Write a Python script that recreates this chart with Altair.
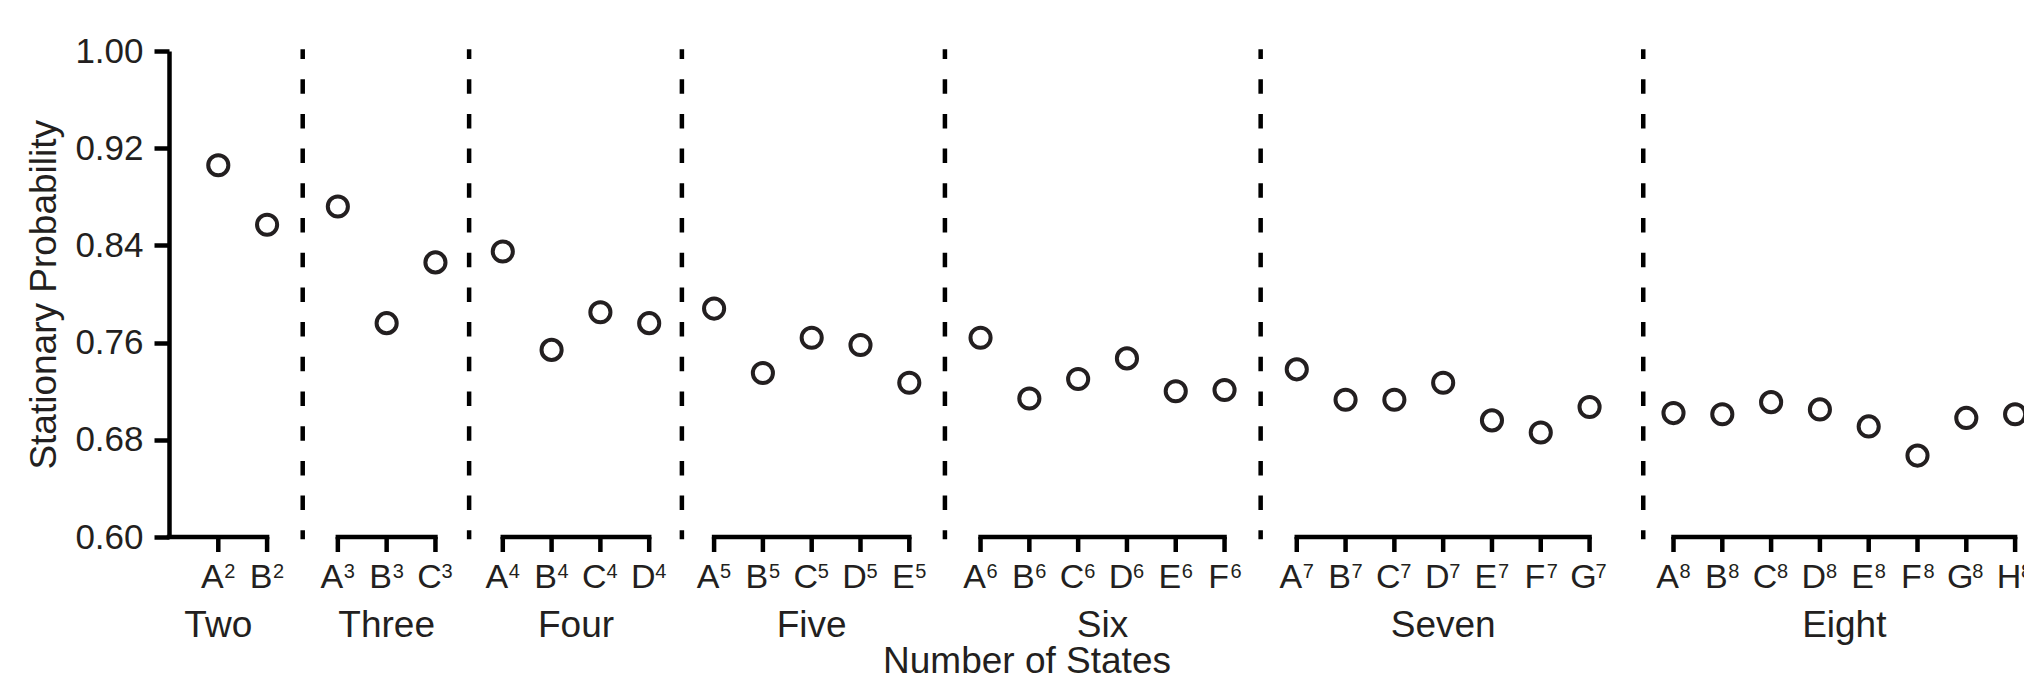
import altair as alt
import pandas as pd

# ---- data ----
groups = ["Two", "Three", "Four", "Five", "Six", "Seven", "Eight"]
sup_digits = ["2", "3", "4", "5", "6", "7", "8"]
state_letters = ["A", "B", "C", "D", "E", "F", "G", "H"]
values_two = [0.906, 0.857]
values_three = [0.872, 0.776, 0.826]
values_four = [0.835, 0.754, 0.785, 0.776]
values_five = [0.788, 0.735, 0.764, 0.758, 0.727]
values_six = [0.764, 0.714, 0.730, 0.747, 0.720, 0.721]
values_seven = [0.738, 0.713, 0.713, 0.727, 0.696, 0.686, 0.707]
values_eight = [0.702, 0.701, 0.711, 0.705, 0.691, 0.667, 0.698, 0.701]
y_ticks = [0.60, 0.68, 0.76, 0.84, 0.92, 1.00]

all_values = [values_two, values_three, values_four, values_five,
              values_six, values_seven, values_eight]

# ---- layout (slot units) ----
lead = 1.01
gap_to_divider = [0.73, 0.69, 0.67, 0.73, 0.74, 1.10]
gap_from_divider = [0.72, 0.69, 0.66, 0.73, 0.74, 0.62]
label_anchor = [0, 1, 1.5, 2, 2.5, 3, 3.5]
unit_px = 48.8
W = 1855
H = 486
x_max = W / unit_px

pts, divs, segs, labs = [], [], [], []
pos = lead
for gi, (g, vals) in enumerate(zip(groups, all_values)):
    first = pos
    for i, v in enumerate(vals):
        pts.append({"grp": g, "letter": state_letters[i], "sup": sup_digits[gi],
                    "value": v, "pos": pos + i})
    last = pos + len(vals) - 1
    segs.append({"start": 0.0 if gi == 0 else first, "end": last})
    labs.append({"grp": g, "lx": first + label_anchor[gi]})
    if gi < len(groups) - 1:
        d = last + gap_to_divider[gi]
        divs.append({"pos": d})
        pos = d + gap_from_divider[gi]

pts = pd.DataFrame(pts)
divs = pd.DataFrame(divs)
segs = pd.DataFrame(segs)
labs = pd.DataFrame(labs)

FONT = "Liberation Sans"
TXT = "#231f20"
xs = alt.Scale(domain=[0, x_max], nice=False, zero=False)
ys = alt.Scale(domain=[0.6, 1.0], nice=False, zero=False)


def X(field):
    return alt.X(field, scale=xs, axis=None)


points = alt.Chart(pts).mark_point(
    shape="circle", filled=False, size=405, strokeWidth=4, color=TXT, opacity=1
).encode(
    x=X("pos:Q"),
    y=alt.Y("value:Q", scale=ys, axis=alt.Axis(
        values=y_ticks, format=".2f", title=None, grid=False,
        domainColor="black", domainWidth=4.5,
        tickColor="black", tickWidth=4.5, tickSize=15,
        labelFontSize=35, labelFont=FONT, labelColor=TXT, labelPadding=11)),
)

dividers = alt.Chart(divs).mark_rule(
    color="black", strokeWidth=4.5, strokeDash=[14.5, 20.2], strokeDashOffset=4.8
).encode(x=X("pos:Q"), y=alt.value(-1.7), y2=alt.value(488.3))

segments = alt.Chart(segs).mark_rule(
    color="black", strokeWidth=4.5, strokeCap="square"
).encode(x=X("start:Q"), x2="end:Q", y=alt.value(H))

ticks = alt.Chart(pts).mark_rule(color="black", strokeWidth=4.5).encode(
    x=X("pos:Q"), y=alt.value(H), y2=alt.value(H + 15))

letters = alt.Chart(pts).mark_text(
    font=FONT, fontSize=34, color=TXT, align="center", baseline="alphabetic", dx=-6
).encode(x=X("pos:Q"), y=alt.value(536.7), text="letter:N")

sups = alt.Chart(pts).mark_text(
    font=FONT, fontSize=20, color=TXT, align="left", baseline="alphabetic", dx=6
).encode(x=X("pos:Q"), y=alt.value(526.5), text="sup:N")

glabels = alt.Chart(labs).mark_text(
    font=FONT, fontSize=37, color=TXT, align="center", baseline="alphabetic"
).encode(x=X("lx:Q"), y=alt.value(585.8), text="grp:N")

xtitle = alt.Chart(pd.DataFrame({"t": ["Number of States"]})).mark_text(
    font=FONT, fontSize=37, color=TXT, align="center", baseline="alphabetic"
).encode(x=alt.value(858), y=alt.value(621.5), text="t:N")

ytitle = alt.Chart(pd.DataFrame({"t": ["Stationary Probability"]})).mark_text(
    font=FONT, fontSize=37, color=TXT, align="center", baseline="alphabetic", angle=270
).encode(x=alt.value(-113), y=alt.value(243.8), text="t:N")

chart = alt.layer(
    dividers, segments, ticks, points, letters, sups, glabels, xtitle, ytitle
).properties(
    width=W, height=H,
    background="white",
    autosize=alt.AutoSizeParams(type="none"),
    padding={"left": 161, "top": 43, "right": 0, "bottom": 138},
).configure_view(stroke=None)

chart.save("out.html", embed_options={"renderer": "svg", "actions": False})
